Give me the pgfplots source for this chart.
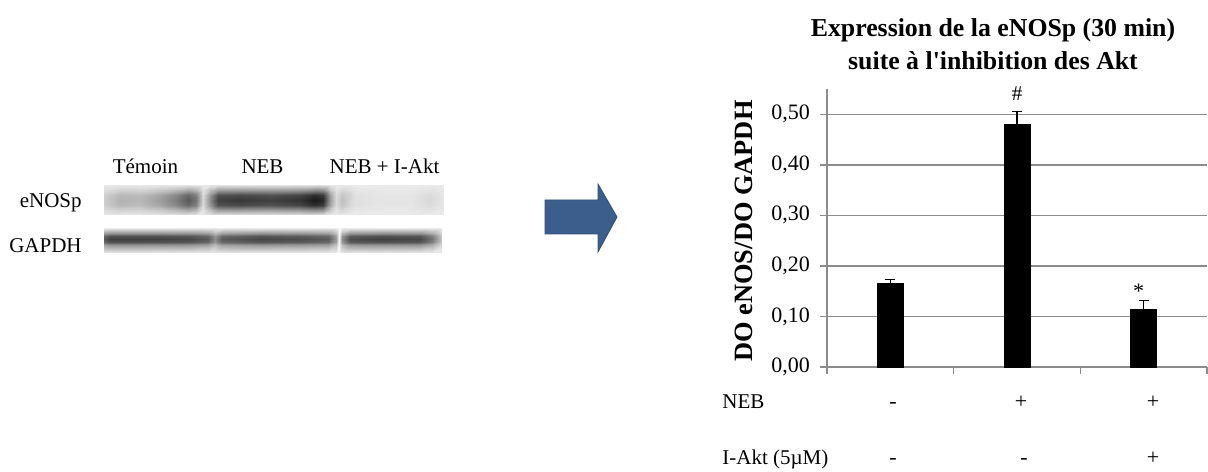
\documentclass[border=0pt]{standalone}
\usepackage{fontspec}
\setmainfont{Liberation Serif}
\usepackage{pgfplots}
\pgfplotsset{compat=1.18}
\definecolor{gridgray}{RGB}{140,140,140}
\definecolor{arrowblue}{RGB}{59,94,140}
\newcommand{\fs}[1]{\fontsize{#1}{#1}\selectfont}
\begin{document}
\begin{tikzpicture}
\useasboundingbox (0,0) rectangle (604pt,235.5pt);
% ---------- canvas axis (pixel coordinates) : blot, arrow, texts ----------
\begin{axis}[at={(0,0)}, anchor=south west, scale only axis,
  width=604pt, height=235.5pt, xmin=0, xmax=1208, ymin=0, ymax=471,
  y dir=reverse, hide axis, clip=false,
  colormap/blackwhite, point meta min=0, point meta max=1]
% eNOSp strip
\addplot[surf, shader=interp, mesh/cols=23, point meta=explicit] coordinates {
(104,185)[0.91] (120,185)[0.91] (140,185)[0.91] (160,185)[0.90] (175,185)[0.90] (188,185)[0.89] (196,185)[0.90] (203,185)[0.92] (210,185)[0.90] (218,185)[0.89] (240,185)[0.89] (270,185)[0.89] (300,185)[0.88] (315,185)[0.88] (323,185)[0.88] (330,185)[0.90] (336,185)[0.92] (342,185)[0.91] (355,185)[0.92] (380,185)[0.92] (410,185)[0.92] (430,185)[0.92] (443,185)[0.92]

(104,190)[0.87] (120,190)[0.82] (140,190)[0.83] (160,190)[0.79] (175,190)[0.73] (188,190)[0.66] (196,190)[0.71] (203,190)[0.89] (210,190)[0.75] (218,190)[0.62] (240,190)[0.61] (270,190)[0.62] (300,190)[0.60] (315,190)[0.55] (323,190)[0.57] (330,190)[0.78] (336,190)[0.89] (342,190)[0.84] (355,190)[0.90] (380,190)[0.91] (410,190)[0.91] (430,190)[0.89] (443,190)[0.91]

(104,195)[0.81] (120,195)[0.72] (140,195)[0.74] (160,195)[0.65] (175,195)[0.54] (188,195)[0.41] (196,195)[0.50] (203,195)[0.86] (210,195)[0.59] (218,195)[0.32] (240,195)[0.29] (270,195)[0.32] (300,195)[0.27] (315,195)[0.18] (323,195)[0.23] (330,195)[0.63] (336,195)[0.86] (342,195)[0.77] (355,195)[0.88] (380,195)[0.90] (410,195)[0.90] (430,195)[0.86] (443,195)[0.90]

(104,200)[0.80] (120,200)[0.70] (140,200)[0.72] (160,200)[0.62] (175,200)[0.50] (188,200)[0.35] (196,200)[0.45] (203,200)[0.85] (210,200)[0.55] (218,200)[0.25] (240,200)[0.22] (270,200)[0.25] (300,200)[0.20] (315,200)[0.10] (323,200)[0.15] (330,200)[0.60] (336,200)[0.85] (342,200)[0.75] (355,200)[0.88] (380,200)[0.90] (410,200)[0.90] (430,200)[0.85] (443,200)[0.90]

(104,205)[0.81] (120,205)[0.72] (140,205)[0.74] (160,205)[0.65] (175,205)[0.54] (188,205)[0.41] (196,205)[0.50] (203,205)[0.86] (210,205)[0.59] (218,205)[0.32] (240,205)[0.29] (270,205)[0.32] (300,205)[0.27] (315,205)[0.18] (323,205)[0.23] (330,205)[0.63] (336,205)[0.86] (342,205)[0.77] (355,205)[0.88] (380,205)[0.90] (410,205)[0.90] (430,205)[0.86] (443,205)[0.90]

(104,210)[0.87] (120,210)[0.82] (140,210)[0.83] (160,210)[0.79] (175,210)[0.73] (188,210)[0.66] (196,210)[0.71] (203,210)[0.89] (210,210)[0.75] (218,210)[0.62] (240,210)[0.61] (270,210)[0.62] (300,210)[0.60] (315,210)[0.55] (323,210)[0.57] (330,210)[0.78] (336,210)[0.89] (342,210)[0.84] (355,210)[0.90] (380,210)[0.91] (410,210)[0.91] (430,210)[0.89] (443,210)[0.91]

(104,215)[0.91] (120,215)[0.91] (140,215)[0.91] (160,215)[0.90] (175,215)[0.90] (188,215)[0.89] (196,215)[0.90] (203,215)[0.92] (210,215)[0.90] (218,215)[0.89] (240,215)[0.89] (270,215)[0.89] (300,215)[0.88] (315,215)[0.88] (323,215)[0.88] (330,215)[0.90] (336,215)[0.92] (342,215)[0.91] (355,215)[0.92] (380,215)[0.92] (410,215)[0.92] (430,215)[0.92] (443,215)[0.92]
};
% GAPDH strip
\addplot[surf, shader=interp, mesh/cols=18, point meta=explicit] coordinates {
(104,228)[0.92] (110,228)[0.92] (150,228)[0.92] (190,228)[0.92] (208,228)[0.92] (215,228)[0.92] (222,228)[0.92] (260,228)[0.92] (300,228)[0.92] (328,228)[0.92] (336,228)[0.92] (339,228)[0.97] (342,228)[0.92] (350,228)[0.92] (380,228)[0.92] (420,228)[0.92] (432,228)[0.92] (441,228)[0.92]

(104,233)[0.64] (110,233)[0.59] (150,233)[0.59] (190,233)[0.60] (208,233)[0.64] (215,233)[0.74] (222,233)[0.64] (260,233)[0.60] (300,233)[0.61] (328,233)[0.64] (336,233)[0.76] (339,233)[0.97] (342,233)[0.74] (350,233)[0.61] (380,233)[0.59] (420,233)[0.60] (432,233)[0.69] (441,233)[0.84]

(104,236)[0.41] (110,236)[0.32] (150,236)[0.32] (190,236)[0.34] (208,236)[0.41] (215,236)[0.59] (222,236)[0.41] (260,236)[0.34] (300,236)[0.36] (328,236)[0.41] (336,236)[0.63] (339,236)[0.97] (342,236)[0.59] (350,236)[0.36] (380,236)[0.32] (420,236)[0.34] (432,236)[0.50] (441,236)[0.77]

(104,239)[0.35] (110,239)[0.25] (150,239)[0.25] (190,239)[0.28] (208,239)[0.35] (215,239)[0.55] (222,239)[0.35] (260,239)[0.28] (300,239)[0.30] (328,239)[0.35] (336,239)[0.60] (339,239)[0.97] (342,239)[0.55] (350,239)[0.30] (380,239)[0.25] (420,239)[0.28] (432,239)[0.45] (441,239)[0.75]

(104,242)[0.41] (110,242)[0.32] (150,242)[0.32] (190,242)[0.34] (208,242)[0.41] (215,242)[0.59] (222,242)[0.41] (260,242)[0.34] (300,242)[0.36] (328,242)[0.41] (336,242)[0.63] (339,242)[0.97] (342,242)[0.59] (350,242)[0.36] (380,242)[0.32] (420,242)[0.34] (432,242)[0.50] (441,242)[0.77]

(104,245)[0.64] (110,245)[0.59] (150,245)[0.59] (190,245)[0.60] (208,245)[0.64] (215,245)[0.74] (222,245)[0.64] (260,245)[0.60] (300,245)[0.61] (328,245)[0.64] (336,245)[0.76] (339,245)[0.97] (342,245)[0.74] (350,245)[0.61] (380,245)[0.59] (420,245)[0.60] (432,245)[0.69] (441,245)[0.84]

(104,253)[0.92] (110,253)[0.92] (150,253)[0.92] (190,253)[0.92] (208,253)[0.92] (215,253)[0.92] (222,253)[0.92] (260,253)[0.92] (300,253)[0.92] (328,253)[0.92] (336,253)[0.92] (339,253)[0.97] (342,253)[0.92] (350,253)[0.92] (380,253)[0.92] (420,253)[0.92] (432,253)[0.92] (441,253)[0.92]
};
% arrow
\addplot[fill=arrowblue, draw=arrowblue!85!black, line width=0.4pt] coordinates {
(545,200) (598,200) (598,184) (617,217) (598,252) (598,234) (545,234)} -- cycle;
% blot labels
\node[anchor=base, font=\fs{10.5}] at (axis cs:145.5,174) {Témoin};
\node[anchor=base, font=\fs{10.5}] at (axis cs:262.5,174) {NEB};
\node[anchor=base, font=\fs{10.5}] at (axis cs:384.5,174) {NEB + I-Akt};
\node[anchor=base east, font=\fs{10.5}, inner sep=0pt] at (axis cs:82,208) {eNOSp};
\node[anchor=base east, font=\fs{10.5}, inner sep=0pt] at (axis cs:82,253) {GAPDH};
% chart title and y label
\node[anchor=base, font=\bfseries\fs{12.9}] at (axis cs:993,37) {Expression de la eNOSp (30 min)};
\node[anchor=base, font=\bfseries\fs{12.9}] at (axis cs:993,70) {suite à l\textquotesingle inhibition des Akt};
\node[rotate=90, font=\bfseries\fs{13.2}] at (axis cs:744,231) {DO eNOS/DO GAPDH};
% treatment table
\node[anchor=base west, inner sep=0pt, font=\fs{10.5}] at (axis cs:722,408) {NEB};
\node[anchor=base west, inner sep=0pt, font=\fs{10.5}] at (axis cs:722,464) {I-Akt (5µM)};
\node[anchor=base, font=\fs{11}] at (axis cs:893,408) {-};
\node[anchor=base, font=\fs{11}] at (axis cs:1021,408) {+};
\node[anchor=base, font=\fs{11}] at (axis cs:1153,408) {+};
\node[anchor=base, font=\fs{11}] at (axis cs:893,464) {-};
\node[anchor=base, font=\fs{11}] at (axis cs:1024,464) {-};
\node[anchor=base, font=\fs{11}] at (axis cs:1153,464) {+};
\end{axis}
% ---------- bar chart ----------
\begin{axis}[at={(413.5pt,52pt)}, anchor=south west, scale only axis,
  width=190pt, height=139pt, clip=false,
  xmin=-0.5, xmax=2.5, ymin=0, ymax=0.55,
  axis x line*=bottom, axis y line*=left,
  axis line style={draw=gridgray, line width=0.7pt},
  xtick={-0.5,0.5,1.5,2.5}, xticklabels={},
  ytick={0,0.1,0.2,0.3,0.4,0.5},
  tick align=outside, major tick length=3.5pt,
  tick style={draw=gridgray, line width=0.7pt},
  ymajorgrids, grid style={draw=gridgray, line width=0.7pt},
  yticklabel style={font=\fs{11}, xshift=-1.5pt,
    /pgf/number format/fixed, /pgf/number format/fixed zerofill,
    /pgf/number format/precision=2, /pgf/number format/use comma,
    /pgf/number format/assume math mode=true},
  ybar, bar width=13pt]
\addplot[fill=black, draw=black,
  error bars/.cd, y dir=plus, y explicit,
  error bar style={black, line width=0.6pt},
  error mark options={black, rotate=90, mark size=2.5pt, line width=0.6pt}]
  coordinates {(0,0.165) +- (0,0.008) (1,0.480) +- (0,0.026) (2,0.114) +- (0,0.018)};
\node[anchor=base, font=\fs{10.5}] at (axis cs:1,0.528) {\#};
\node[anchor=base, font=\fs{11}] at (axis cs:1.96,0.136) {*};
\end{axis}
\end{tikzpicture}
\end{document}
